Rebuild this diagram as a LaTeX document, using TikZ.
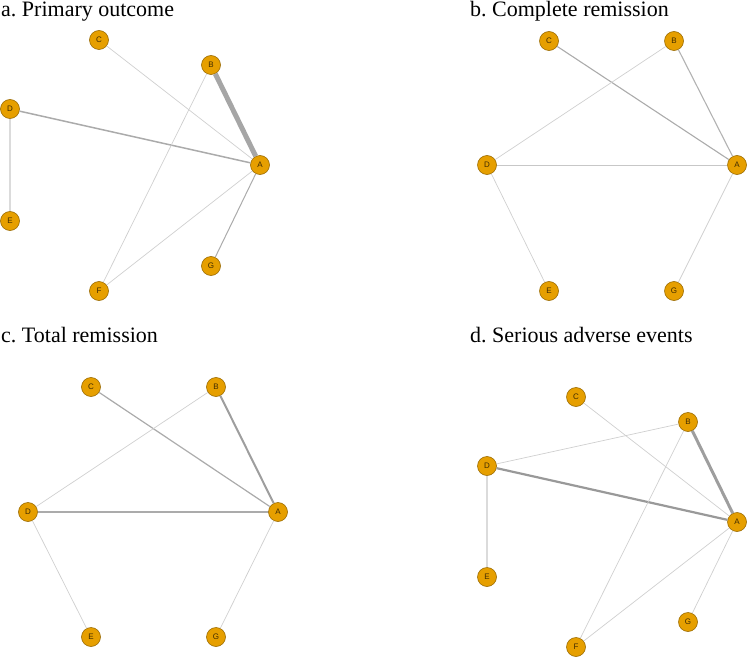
\documentclass[tikz,border=0pt]{standalone}
\usepackage{fontspec}
\setmainfont{Liberation Serif}
\setsansfont{Liberation Sans}
\usepackage{tikz}
\definecolor{armfill}{HTML}{E69F00}
\definecolor{armline}{HTML}{9A6A00}
\definecolor{armtext}{HTML}{3F2B00}
\tikzset{
  armnode/.style = {circle, draw=armline, fill=armfill, text=armtext,
    minimum size=19pt, inner sep=0pt, line width=0.6pt,
    font=\sffamily\fontsize{8}{8}\selectfont},% noeud de traitement
  paneltitle/.style = {anchor=base west, inner sep=0pt,
    font=\fontsize{22}{22}\selectfont},% titre du panneau
  faintlink/.style = {draw=black!19, line width=0.7pt},% peu d'essais
  softlink/.style = {draw=black!14, line width=1.8pt},% lien large et clair
  midlink/.style = {draw=black!33, line width=1.1pt},% lien moyen
  strnglink/.style = {draw=black!38, line width=2pt},% lien fort
  heavylink/.style = {draw=black!35, line width=5pt}% lien tres fort
}

\begin{document}
\begin{tikzpicture}[x=1pt, y=-1pt]
  \useasboundingbox (0,0) rectangle (747,658);

  % a. Primary outcome
  \node [paneltitle] (ta) at (1,17) {a.\ Primary outcome};
  \node [armnode] (aC) at (99,40)  {C};
  \node [armnode] (aB) at (211,65) {B};
  \node [armnode] (aD) at (10,109) {D};
  \node [armnode] (aA) at (260,165) {A};
  \node [armnode] (aE) at (10,221) {E};
  \node [armnode] (aG) at (211,266) {G};
  \node [armnode] (aF) at (99,291) {F};
  \draw [heavylink] (aB) -- (aA);
  \draw [midlink, line width=1.5pt] (aD) -- (aA);
  \draw [faintlink] (aC) -- (aA);
  \draw [faintlink] (aB) -- (aF);
  \draw [faintlink] (aF) -- (aA);
  \draw [midlink, line width=1pt] (aG) -- (aA);
  \draw [softlink] (aD) -- (aE);

  % b. Complete remission
  \node [paneltitle] (tb) at (470,17) {b.\ Complete remission};
  \node [armnode] (bC) at (549,41)  {C};
  \node [armnode] (bB) at (674,41)  {B};
  \node [armnode] (bD) at (487,165) {D};
  \node [armnode] (bA) at (737,165) {A};
  \node [armnode] (bE) at (549,291) {E};
  \node [armnode] (bG) at (674,291) {G};
  \draw [midlink] (bC) -- (bA);
  \draw [midlink, draw=black!30] (bB) -- (bA);
  \draw [faintlink] (bB) -- (bD);
  \draw [faintlink, draw=black!22] (bD) -- (bA);
  \draw [faintlink] (bD) -- (bE);
  \draw [faintlink] (bA) -- (bG);

  % c. Total remission
  \node [paneltitle] (tc) at (1,342) {c.\ Total remission};
  \node [armnode] (cC) at (91,387)  {C};
  \node [armnode] (cB) at (216,387) {B};
  \node [armnode] (cD) at (28,512)  {D};
  \node [armnode] (cA) at (278,512) {A};
  \node [armnode] (cE) at (91,637)  {E};
  \node [armnode] (cG) at (216,637) {G};
  \draw [strnglink] (cB) -- (cA);
  \draw [midlink, line width=1.2pt] (cC) -- (cA);
  \draw [midlink, line width=1.2pt] (cD) -- (cA);
  \draw [faintlink] (cB) -- (cD);
  \draw [faintlink] (cD) -- (cE);
  \draw [faintlink] (cA) -- (cG);

  % d. Serious adverse events
  \node [paneltitle] (td) at (470,342) {d.\ Serious adverse events};
  \node [armnode] (dC) at (576,397) {C};
  \node [armnode] (dB) at (688,422) {B};
  \node [armnode] (dD) at (487,466) {D};
  \node [armnode] (dA) at (737,522) {A};
  \node [armnode] (dE) at (487,577) {E};
  \node [armnode] (dG) at (688,622) {G};
  \node [armnode] (dF) at (576,647) {F};
  \draw [heavylink, line width=3pt, draw=black!38] (dB) -- (dA);
  \draw [strnglink, line width=2.2pt, draw=black!40] (dD) -- (dA);
  \draw [faintlink] (dC) -- (dA);
  \draw [faintlink] (dD) -- (dB);
  \draw [faintlink] (dB) -- (dF);
  \draw [faintlink] (dF) -- (dA);
  \draw [faintlink] (dG) -- (dA);
  \draw [softlink] (dD) -- (dE);
\end{tikzpicture}
\end{document}
